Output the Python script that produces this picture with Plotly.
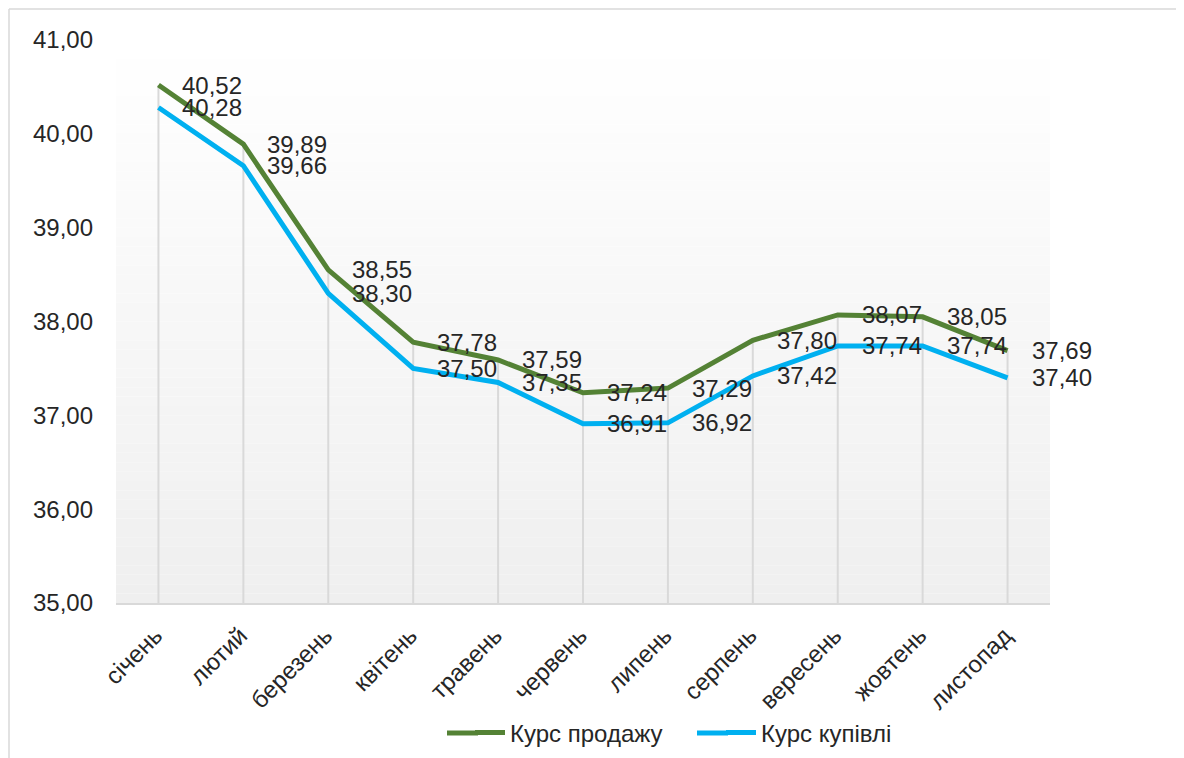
import plotly.graph_objects as go

months = ["січень", "лютий", "березень", "квітень", "травень", "червень",
          "липень", "серпень", "вересень", "жовтень", "листопад"]
sell = [40.52, 39.89, 38.55, 37.78, 37.59, 37.24, 37.29, 37.80, 38.07, 38.05, 37.69]
buy = [40.28, 39.66, 38.30, 37.50, 37.35, 36.91, 36.92, 37.42, 37.74, 37.74, 37.40]
y_ticks = [35, 36, 37, 38, 39, 40, 41]

SELL_COLOR = "#548235"
BUY_COLOR = "#00B0F0"
TEXT_COLOR = "#262626"
FONT = "Liberation Sans, Arial, sans-serif"
FS = 24

W, H = 1176, 750
L, R, T, B = 108, 134, 32, 155
PW, PH = W - L - R, H - T - B

fig = go.Figure()

# drop lines from the highest value down to the axis minimum
dx, dy = [], []
for m, s, b in zip(months, sell, buy):
    dx += [m, m, None]
    dy += [max(s, b), y_ticks[0], None]
fig.add_trace(go.Scatter(x=dx, y=dy, mode="lines", line=dict(color="#d9d9d9", width=2),
                         hoverinfo="skip", showlegend=False))

fig.add_trace(go.Scatter(x=months, y=sell, mode="lines", name="Курс продажу",
                         line=dict(color=SELL_COLOR, width=5)))
fig.add_trace(go.Scatter(x=months, y=buy, mode="lines", name="Курс купівлі",
                         line=dict(color=BUY_COLOR, width=5)))

annotations = []
for series in (sell, buy):
    for m, v in zip(months, series):
        annotations.append(dict(x=m, y=v, xref="x", yref="y", text=f"{v:.2f}".replace(".", ","),
                                showarrow=False, xanchor="left", yanchor="middle", xshift=22,
                                font=dict(family=FONT, size=FS, color=TEXT_COLOR)))

# gradient background stripes
shapes = []
n = 60
for i in range(n):
    t = i / (n - 1)
    c = int(round(255 - 16 * t))
    shapes.append(dict(type="rect", xref="x domain", yref="y domain",
                       x0=0, x1=1, y0=1 - (i + 1) / n, y1=1 - i / n,
                       fillcolor=f"rgb({c},{c},{c})", line=dict(width=0), layer="below"))
# outer border (left and top)
bx = -(L - 1) / PW
by = 1 + (T - 1) / PH
shapes.append(dict(type="line", xref="paper", yref="paper", x0=bx, x1=bx, y0=-B / PH, y1=by,
                   line=dict(color="#d9d9d9", width=1.5)))
shapes.append(dict(type="line", xref="paper", yref="paper", x0=bx, x1=1 + R / PW, y0=by, y1=by,
                   line=dict(color="#d9d9d9", width=1.5)))

# longer legend keys (legend symbols are short in plotly)
LEG_Y = 725
ly = -(LEG_Y - (T + PH)) / PH
for x0, x1, col in ((439, 470, SELL_COLOR), (689, 720, BUY_COLOR)):
    shapes.append(dict(type="line", xref="paper", yref="paper",
                       x0=(x0 - L) / PW, x1=(x1 - L) / PW, y0=ly, y1=ly,
                       line=dict(color=col, width=5)))

fig.update_layout(
    width=W, height=H,
    margin=dict(l=L, r=R, t=T, b=B, autoexpand=False),
    paper_bgcolor="white", plot_bgcolor="white",
    separators=", ",
    font=dict(family=FONT, size=FS, color=TEXT_COLOR),
    shapes=shapes,
    annotations=annotations,
    showlegend=True,
    legend=dict(orientation="h", x=(462 - L) / PW, y=ly,
                xanchor="left", yanchor="middle",
                font=dict(family=FONT, size=FS, color=TEXT_COLOR), bgcolor="rgba(0,0,0,0)",
                entrywidth=206, entrywidthmode="pixels"),
    xaxis=dict(type="category", categoryorder="array", categoryarray=months,
               range=[-0.5, len(months) - 0.5], tickangle=-45, showgrid=False,
               showline=True, linecolor="#d9d9d9", linewidth=2, ticks="", automargin=False,
               ticklabelstandoff=7, ticklabelshift=-3,
               tickfont=dict(family=FONT, size=FS, color=TEXT_COLOR), zeroline=False),
    yaxis=dict(range=[y_ticks[0], y_ticks[-1]], tickvals=y_ticks, tickformat=".2f",
               showgrid=False, zeroline=False, showline=False, ticks="", automargin=False,
               ticklabelstandoff=22,
               tickfont=dict(family=FONT, size=FS, color=TEXT_COLOR)),
)

fig.write_html("out.html")
